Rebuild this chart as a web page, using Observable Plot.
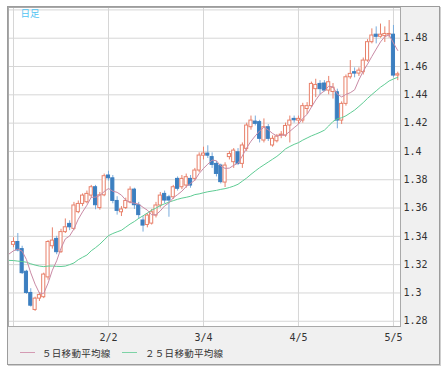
<!DOCTYPE html>
<html><head><meta charset="utf-8">
<script src="https://cdn.jsdelivr.net/npm/d3@7"></script>
<script src="https://cdn.jsdelivr.net/npm/@observablehq/plot@0.6"></script>
<style>
body{margin:0;background:#fff;}
#wrap{position:relative;width:445px;height:374px;overflow:hidden;}
#box{position:absolute;left:7px;top:6px;width:433px;height:359px;box-sizing:border-box;background:#f0f0f0;border:1px solid #9c9c9c;box-shadow:1px 1px 0 #cfcfcf;}
#chart{position:absolute;left:0;top:0;}
.lg{position:absolute;font-family:"Noto Sans CJK JP";font-size:9.5px;color:#333;line-height:10px;white-space:nowrap;letter-spacing:0.3px;}
.sw{position:absolute;width:15px;height:1px;}
</style></head>
<body>
<div id="wrap">
  <div id="box"></div>
  <div id="chart"></div>
  <div class="sw" style="left:20px;top:352px;background:#d49bb3"></div>
  <div class="lg" style="left:42px;top:348px">５日移動平均線</div>
  <div class="sw" style="left:122px;top:352px;background:#7dd3a6"></div>
  <div class="lg" style="left:145px;top:348px">２５日移動平均線</div>
</div>
<script>
// trading days (first entry only carries moving-average values)
const dates = ["12/31",
"1/3","1/4","1/5","1/6","1/7","1/10","1/11","1/12","1/13","1/14","1/17","1/18","1/19","1/20","1/21","1/24","1/25","1/26","1/27","1/28","1/31",
"2/1","2/2","2/3","2/4","2/7","2/8","2/9","2/10","2/11","2/14","2/15","2/16","2/17","2/18","2/21","2/22","2/23","2/24","2/25","2/28",
"3/1","3/2","3/3","3/4","3/7","3/8","3/9","3/10","3/11","3/14","3/15","3/16","3/17","3/18","3/21","3/22","3/23","3/24","3/25","3/28","3/29","3/30","3/31",
"4/1","4/4","4/5","4/6","4/7","4/8","4/11","4/12","4/13","4/14","4/15","4/18","4/19","4/20","4/21","4/22","4/25","4/26","4/27","4/28","4/29",
"5/2","5/3","5/4","5/5","5/6"];

const open = [null,
1.3340,1.3360,1.3310,1.3150,1.3000,1.2880,1.2960,1.2970,1.3110,1.3330,1.3382,1.3288,1.3430,1.3488,1.3453,1.3571,1.3629,1.3641,1.3688,1.3747,1.3600,
1.3690,1.3830,1.3810,1.3650,1.3570,1.3600,1.3640,1.3730,1.3620,1.3512,1.3480,1.3490,1.3547,1.3618,1.3700,1.3676,1.3676,1.3806,1.3747,1.3759,
1.3806,1.3806,1.3865,1.3970,1.3985,1.3960,1.3912,1.3900,1.3780,1.3960,1.3924,1.3994,1.3912,1.4018,1.4171,1.4211,1.4207,1.4077,1.4171,1.4042,1.4072,1.4112,1.4112,
1.4183,1.4230,1.4218,1.4218,1.4300,1.4320,1.4440,1.4477,1.4480,1.4430,1.4420,1.4418,1.4218,1.4336,1.4524,1.4560,1.4550,1.4560,1.4642,1.4772,1.4825,
1.4810,1.4815,1.4825,1.4825,1.4536];
const high = [null,
1.3390,1.3420,1.3330,1.3160,1.3030,1.2970,1.3000,1.3140,1.3370,1.3460,1.3400,1.3450,1.3523,1.3510,1.3640,1.3650,1.3700,1.3720,1.3760,1.3760,1.3710,
1.3840,1.3860,1.3830,1.3680,1.3610,1.3670,1.3750,1.3740,1.3640,1.3540,1.3560,1.3590,1.3640,1.3710,1.3720,1.3690,1.3760,1.3820,1.3830,1.3840,
1.3830,1.3880,1.3990,1.4030,1.4040,1.3990,1.3930,1.3910,1.3920,1.4000,1.4020,1.4020,1.4060,1.4200,1.4250,1.4250,1.4220,1.4230,1.4190,1.4110,1.4120,1.4140,1.4200,
1.4250,1.4250,1.4250,1.4340,1.4345,1.4490,1.4510,1.4500,1.4500,1.4530,1.4480,1.4440,1.4350,1.4540,1.4642,1.4590,1.4590,1.4660,1.4790,1.4866,1.4880,
1.4900,1.4880,1.4925,1.4890,1.4560];
const low = [null,
1.3320,1.3290,1.3130,1.2990,1.2900,1.2870,1.2940,1.2960,1.3090,1.3310,1.3270,1.3280,1.3420,1.3440,1.3440,1.3560,1.3610,1.3630,1.3670,1.3588,1.3585,
1.3680,1.3790,1.3630,1.3550,1.3540,1.3590,1.3630,1.3590,1.3520,1.3430,1.3460,1.3480,1.3530,1.3600,1.3630,1.3535,1.3660,1.3720,1.3730,1.3740,
1.3740,1.3790,1.3850,1.3940,1.3950,1.3880,1.3820,1.3770,1.3745,1.3940,1.3880,1.3900,1.3880,1.4000,1.4150,1.4180,1.4060,1.4060,1.4070,1.4030,1.4060,1.4090,1.4100,
1.4060,1.4200,1.4190,1.4200,1.4260,1.4310,1.4380,1.4400,1.4420,1.4400,1.4370,1.4160,1.4190,1.4320,1.4510,1.4520,1.4530,1.4540,1.4630,1.4760,1.4760,
1.4800,1.4770,1.4800,1.4520,1.4500];
const close = [null,
1.3360,1.3300,1.3140,1.3000,1.2910,1.2960,1.2985,1.3130,1.3360,1.3370,1.3288,1.3430,1.3464,1.3464,1.3618,1.3629,1.3688,1.3700,1.3747,1.3620,1.3690,
1.3825,1.3810,1.3650,1.3580,1.3590,1.3650,1.3730,1.3620,1.3550,1.3476,1.3547,1.3570,1.3618,1.3688,1.3653,1.3653,1.3747,1.3736,1.3806,1.3818,
1.3759,1.3865,1.3971,1.3985,1.3970,1.3905,1.3841,1.3783,1.3900,1.3982,1.4006,1.3912,1.4042,1.4183,1.4218,1.4195,1.4089,1.4171,1.4089,1.4089,1.4105,1.4119,1.4180,
1.4218,1.4220,1.4230,1.4320,1.4320,1.4477,1.4470,1.4440,1.4430,1.4489,1.4450,1.4218,1.4336,1.4524,1.4548,1.4550,1.4571,1.4642,1.4772,1.4819,1.4810,
1.4825,1.4830,1.4830,1.4536,1.4545];

// moving averages
const ma5 = [1.3276,
1.3298,1.3310,1.3295,1.3236,1.3142,1.3062,1.2999,1.2997,1.3069,1.3161,
1.3227,1.3316,1.3382,1.3403,1.3453,1.3521,1.3573,1.3620,1.3676,1.3677,
1.3689,1.3716,1.3738,1.3719,1.3711,1.3691,1.3656,1.3640,1.3634,1.3628,
1.3605,1.3585,1.3553,1.3552,1.3580,1.3615,1.3636,1.3672,1.3695,1.3719,
1.3752,1.3773,1.3797,1.3844,1.3880,1.3910,1.3939,1.3934,1.3897,1.3880,
1.3882,1.3902,1.3917,1.3968,1.4025,1.4072,1.4110,1.4145,1.4171,1.4152,
1.4127,1.4109,1.4115,1.4116,1.4142,1.4168,1.4193,1.4234,1.4262,1.4313,
1.4363,1.4405,1.4427,1.4461,1.4456,1.4405,1.4385,1.4403,1.4415,1.4435,
1.4506,1.4567,1.4617,1.4671,1.4723,1.4774,1.4811,1.4823,1.4766,1.4713];
const ma25 = [1.3230,
1.3229,1.3225,1.3222,1.3217,1.3206,1.3197,1.3190,1.3186,1.3190,1.3190,
1.3188,1.3187,1.3190,1.3200,1.3212,1.3235,1.3252,1.3268,1.3298,1.3320,
1.3345,1.3375,1.3405,1.3420,1.3432,1.3443,1.3465,1.3487,1.3505,1.3527,
1.3545,1.3565,1.3585,1.3600,1.3617,1.3630,1.3642,1.3652,1.3662,1.3670,
1.3676,1.3683,1.3695,1.3700,1.3708,1.3715,1.3720,1.3725,1.3732,1.3737,
1.3745,1.3755,1.3768,1.3790,1.3812,1.3838,1.3862,1.3885,1.3905,1.3925,
1.3945,1.3965,1.3990,1.4018,1.4035,1.4050,1.4062,1.4080,1.4095,1.4110,
1.4122,1.4135,1.4150,1.4180,1.4212,1.4230,1.4238,1.4252,1.4272,1.4292,
1.4318,1.4345,1.4375,1.4402,1.4428,1.4454,1.4475,1.4498,1.4512,1.4524];

const xGridDates = ["1/3","2/2","3/4","4/5","5/5"];
const xLabelDates = ["2/2","3/4","4/5","5/5"];
const yTickLabels = ["1.28","1.3","1.32","1.34","1.36","1.38","1.4","1.42","1.44","1.46","1.48"];
const yGridExtra = ["1.5"];
const periodLabel = "日足";

const UP = "#e8806a", DOWN = "#3c7fc0", DOWNWICK = "#79acdc";

const rows = dates.map((d, k) => ({k, date: d, open: open[k], high: high[k], low: low[k], close: close[k], ma5: ma5[k], ma25: ma25[k]}));
const candles = rows.filter(r => r.open != null);
const isUp = r => r.close >= r.open;

const xGrid = xGridDates.map(d => dates.indexOf(d));
const xLab = xLabelDates.map(d => dates.indexOf(d));
const yTicks = yTickLabels.map(Number);
const yGrid = yTicks.concat(yGridExtra.map(Number));

const chart = Plot.plot({
  width: 445, height: 345,
  marginLeft: 8, marginRight: 45, marginTop: 7, marginBottom: 19,
  style: {background: "transparent", fontFamily: "DejaVu Sans Mono", fontSize: "10px", color: "#333"},
  x: {type: "linear", domain: [-0.16, 90.63], label: null},
  y: {type: "linear", domain: [1.2763, 1.5017], label: null},
  marks: [
    Plot.frame({fill: "white"}),
    Plot.gridY(yGrid, {stroke: "#d6d6d6", strokeOpacity: 1}),
    Plot.gridX(xGrid, {stroke: "#d6d6d6", strokeOpacity: 1}),
    Plot.ruleX(candles, {x: "k", y1: "low", y2: "high", stroke: r => isUp(r) ? UP : DOWNWICK, strokeWidth: 1}),
    Plot.rect(candles, {x1: r => r.k - 0.36, x2: r => r.k + 0.36, y1: "open", y2: "close",
      fill: r => isUp(r) ? "white" : DOWN, stroke: r => isUp(r) ? UP : DOWN, strokeWidth: 1}),
    Plot.line(rows, {x: "k", y: "ma25", stroke: "#5fcc94", strokeWidth: 1}),
    Plot.line(rows, {x: "k", y: "ma5", stroke: "#c98aa5", strokeWidth: 1}),
    Plot.frame({stroke: "#a9a9a9"}),
    Plot.axisY(yTicks, {anchor: "right", label: null, tickSize: 0, tickPadding: 3, tickFormat: v => yTickLabels[yTicks.indexOf(v)], fill: "#333"}),
    Plot.axisX(xLab, {anchor: "bottom", label: null, tickSize: 0, tickPadding: 7, tickFormat: k => dates[k], fill: "#333"}),
    Plot.text([periodLabel], {frameAnchor: "top-left", dx: 12, dy: 3, lineAnchor: "top", fill: "#4fc3f2", fontSize: 9.5, fontFamily: "Noto Sans CJK JP"})
  ]
});
document.getElementById("chart").appendChild(chart);
</script>
</body></html>
